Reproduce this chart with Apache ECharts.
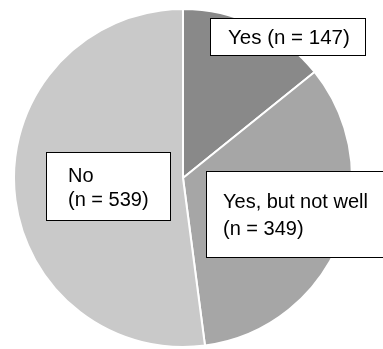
<!DOCTYPE html>
<html>
<head>
<meta charset="utf-8">
<script src="https://cdn.jsdelivr.net/npm/echarts@6/dist/echarts.min.js"></script>
<style>
  html, body { margin: 0; padding: 0; background: #fff; }
  #chart { width: 383px; height: 349px; }
</style>
</head>
<body>
<div id="chart"></div>
<script>
// answers and counts
const answers = ["Yes", "Yes, but not well", "No"];
const counts = [147, 349, 539];
const sliceColors = ["#898989", "#a6a6a6", "#c9c9c9"];

// label boxes (top-left corner) and box styles
const boxPos = [
  { x: 211, y: 19 },
  { x: 207, y: 172 },
  { x: 47, y: 153 }
];
const boxStyle = [
  { width: 137, fontSize: 20.5, lineHeight: 22, padding: [8, 0, 6, 17] },
  { width: 190, lineHeight: 27, padding: [17, 0, 14, 16] },
  { width: 102, lineHeight: 24, padding: [11, 0, 8, 21] }
];

const chartDom = document.getElementById("chart");
const myChart = echarts.init(chartDom);

const pieData = answers.map(function (name, i) {
  return {
    name: name,
    value: counts[i],
    itemStyle: { color: sliceColors[i] },
    label: boxStyle[i]
  };
});

const option = {
  backgroundColor: "#ffffff",
  animation: false,
  series: [
    {
      type: "pie",
      center: [183, 178],
      radius: 169,
      startAngle: 90,
      clockwise: true,
      data: pieData,
      itemStyle: {
        borderColor: "#ffffff",
        borderWidth: 2
      },
      label: {
        show: true,
        position: "inside",
        fontFamily: "Liberation Sans, Arial, sans-serif",
        fontSize: 20,
        color: "#000000",
        backgroundColor: "#ffffff",
        borderColor: "#000000",
        borderWidth: 1,
        overflow: "none",
        formatter: function (p) {
          if (p.dataIndex === 0) {
            return p.name + " (n = " + p.value + ")";
          }
          return p.name + "\n(n = " + p.value + ")";
        }
      },
      labelLine: { show: false },
      labelLayout: function (params) {
        const pos = boxPos[params.dataIndex];
        return {
          x: pos.x,
          y: pos.y,
          align: "left",
          verticalAlign: "top"
        };
      },
      emphasis: { disabled: true }
    }
  ]
};

myChart.setOption(option);
</script>
</body>
</html>
